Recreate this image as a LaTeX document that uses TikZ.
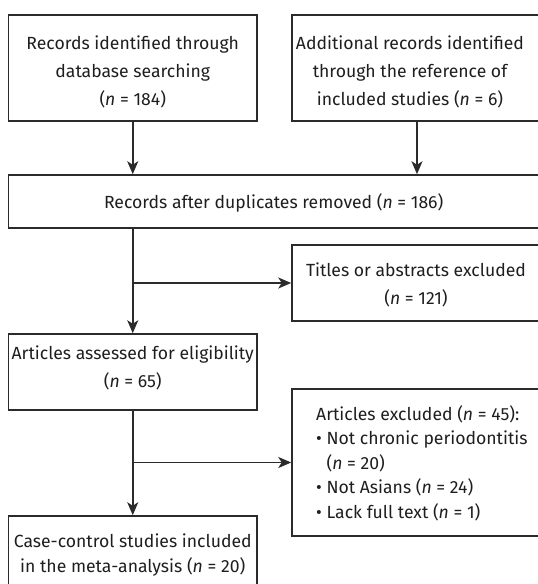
\documentclass[tikz,border=0pt]{standalone}
\usepackage{fontspec}
\setmainfont{Fira Sans}
\usetikzlibrary{arrows.meta}
\definecolor{linec}{HTML}{2B2B2B}
\definecolor{textc}{HTML}{1E1E1E}
\newcommand{\nn}{\textit{n}}
\begin{document}
\begin{tikzpicture}[x=1pt,y=-1pt,
  box/.style={draw=linec,line width=1.5pt,inner sep=0pt,fill=none},
  txt/.style={text=textc,inner sep=0pt,align=center,font=\fontsize{17.6}{28}\selectfont},
  arr/.style={draw=linec,line width=1.5pt,-{Stealth[length=13pt,width=11pt,inset=3.5pt]}},
  ln/.style={draw=linec,line width=1.5pt}]
\useasboundingbox (0,0) rectangle (538,584);
\clip (0,0) rectangle (538,584);
% boxes
\node[box,minimum width=248.5pt,minimum height=106pt] (b1) at (132.75,68) {};
\node[box,minimum width=278pt,minimum height=106pt] (b2) at (431,68) {};
\node[box,minimum width=561.5pt,minimum height=53pt] (b3) at (289.25,201.5) {};
\node[box,minimum width=278pt,minimum height=76pt] (b4) at (431,283) {};
\node[box,minimum width=248.5pt,minimum height=76pt] (b5) at (132.75,372) {};
\node[box,minimum width=278pt,minimum height=147pt] (b6) at (431,462.5) {};
\node[box,minimum width=248.5pt,minimum height=104pt] (b7) at (132.75,568) {};
% texts
\node[txt] (t1) at (132.75,72) {Records identified through\\database searching\\(\nn{} = 184)};
\node[txt] (t2) at (410,72) {Additional records identified\\through the reference of\\included studies (\nn{} = 6)};
\node[txt] (t3) at (273.7,203) {Records after duplicates removed (\nn{} = 186)};
\node[txt] (t4) at (416,285) {Titles or abstracts excluded\\(\nn{} = 121)};
\node[txt] (t5) at (132.75,368) {Articles assessed for eligibility\\(\nn{} = 65)};
\node[txt,align=left,anchor=west,font=\fontsize{17.6}{24.5}\selectfont] (t6) at (316,463) {Articles excluded (\nn{} = 45):\\\textbullet\ Not chronic periodontitis\\\phantom{\textbullet\ }(\nn{} = 20)\\\textbullet\ Not Asians (\nn{} = 24)\\\textbullet\ Lack full text (\nn{} = 1)};
\node[txt,font=\fontsize{17.6}{25}\selectfont] (t7) at (132.75,555) {Case-control studies included\\in the meta-analysis (\nn{} = 20)};
% connectors
\coordinate (c2) at (417,0);
\draw[arr] (b1.south) -- (b1.south |- b3.north);
\draw[arr] (b2.south -| c2) -- (b3.north -| c2);
\draw[arr] (b5.north |- b3.south) -- (b5.north);
\draw[arr] (b5.north |- b4.west) -- (b4.west);
\draw[arr] (b5.south) -- (b7.north);
\draw[arr] (b5.south |- b6.west) -- (b6.west);
\end{tikzpicture}
\end{document}
